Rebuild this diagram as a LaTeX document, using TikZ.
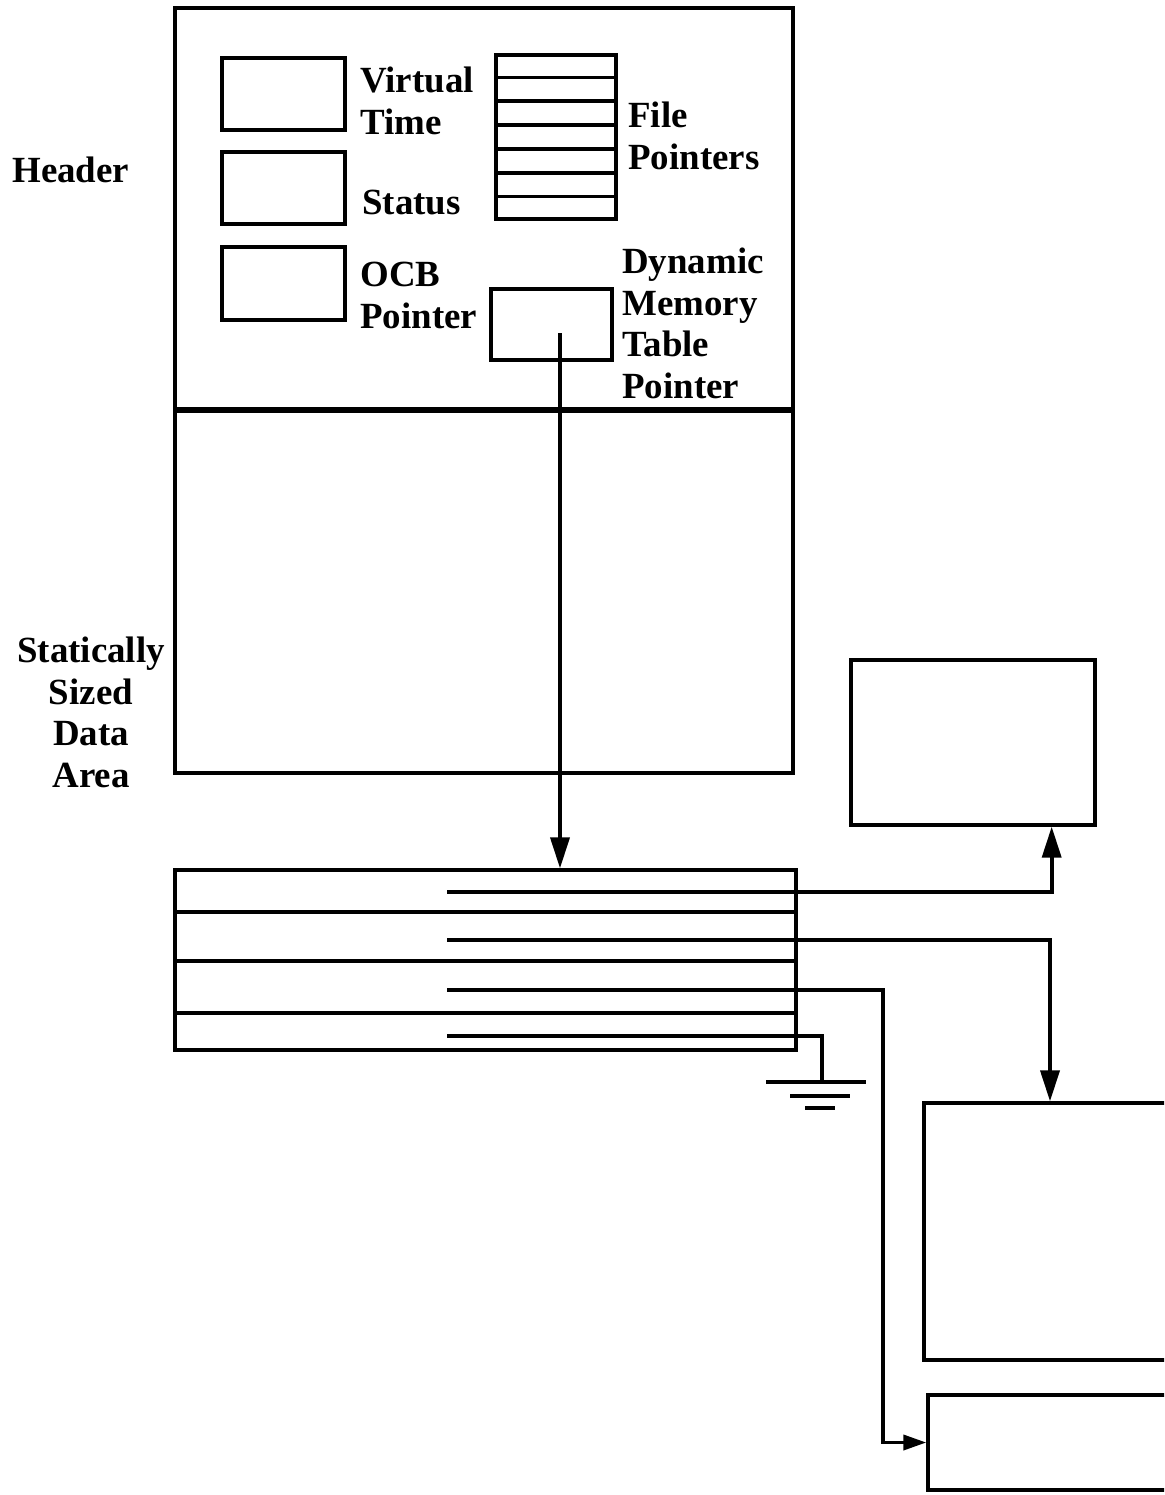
\documentclass[tikz,border=0pt]{standalone}
\usepackage{fontspec}
\setmainfont{Liberation Serif}
\usetikzlibrary{arrows.meta, calc}
\newcommand{\lblfont}{\fontsize{21}{23.6}\selectfont\bfseries}
\def\u{0.02cm}

\tikzset{
  box/.style={draw, line width=1.9pt, inner sep=0pt},
  lbl/.style={font=\lblfont, align=left, anchor=base west, inner sep=0pt},
  wire/.style={line width=2.1pt},
  ptr/.style={wire, -{Triangle[length=0.62cm, width=0.38cm]}},
  ptrsmall/.style={wire, -{Triangle[length=0.46cm, width=0.3cm]}},
  gline/.style={line width=2.8pt},
}

\begin{document}
\begin{tikzpicture}[x=0.02cm, y=-0.02cm]
  \useasboundingbox (0,0) rectangle (1164,1495);
  \begin{scope}
  \clip (0,0) rectangle (1164,1495);

  % process state block
  \node[box, minimum width=618*\u, minimum height=765*\u] (mem) at (484,390.5) {};
  \draw[line width=3.6pt] (mem.west |- 0,410) -- (mem.east |- 0,410);

  % header fields
  \node[box, minimum width=123*\u, minimum height=72*\u] (vt) at (283.5,94) {};
  \node[box, minimum width=123*\u, minimum height=72*\u] (st) at (283.5,188) {};
  \node[box, minimum width=123*\u, minimum height=73*\u] (ocb) at (283.5,283.5) {};
  \node[box, minimum width=120*\u, minimum height=164*\u] (fp) at (556,137) {};
  \foreach \k in {1,...,6}
    \draw[line width=1.9pt] ($(fp.north west)!\k/7!(fp.south west)$) -- ($(fp.north east)!\k/7!(fp.south east)$);
  \node[box, minimum width=121*\u, minimum height=71*\u] (dmt) at (551.5,324.5) {};

  % base anchor sits on the last line
  \node[lbl] (vtl) at (360,134) {Virtual\\Time};
  \node[lbl] (stl) at (362,214) {Status};
  \node[lbl] (ocbl) at (360,328) {OCB\\Pointer};
  \node[lbl] (fpl) at (628,169) {File\\Pointers};
  \node[lbl] (dmtl) at (622,398) {Dynamic\\Memory\\Table\\Pointer};

  \node[lbl] (hdr) at (12,182) {Header};
  \node[lbl, align=center, anchor=base] (ssd) at (91,787) {Statically\\Sized\\Data\\Area};

  % dynamic memory table
  \node[box, minimum width=621*\u, minimum height=180*\u] (tbl) at (485.5,960) {};
  \foreach \f in {43,91,142}
    \draw[line width=1.9pt] ($(tbl.north west)!\f/180!(tbl.south west)$) -- ($(tbl.north east)!\f/180!(tbl.south east)$);

  \coordinate (dmtp) at (560,333);
  \draw[ptr] (dmtp) -- (dmtp |- tbl.north);

  % target blocks
  \node[box, minimum width=244*\u, minimum height=165*\u] (box1) at (973,742.5) {};
  \node[box, minimum width=252*\u, minimum height=257*\u] (box2) at (1050,1231.5) {};
  \node[box, minimum width=248*\u, minimum height=95*\u] (box3) at (1052,1442.5) {};

  \foreach \r/\y in {1/892, 2/940, 3/990, 4/1036}
    \coordinate (r\r) at (447,\y);

  \draw[ptr] (r1) -| ([xshift=-45*\u]box1.south east);
  \draw[ptr] (r2) -| (box2.north);
  \draw[ptrsmall] (r3) -- ++(436,0) |- (box3.west);

  % null pointer
  \coordinate (gnd) at (822,1082);
  \draw[wire] (r4) -| (gnd);
  \draw[gline] (gnd) ++(-56,0) -- ++(100,0);
  \draw[gline] (gnd) ++(-32,14) -- ++(60,0);
  \draw[gline] (gnd) ++(-17,26) -- ++(30,0);
  \end{scope}
\end{tikzpicture}
\end{document}
